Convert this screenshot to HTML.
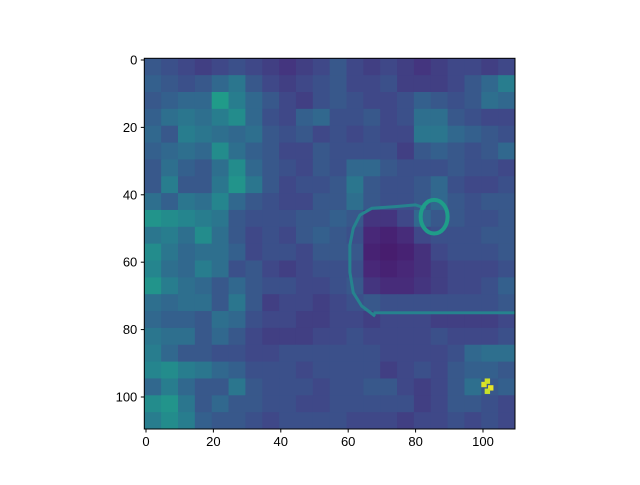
<!DOCTYPE html>
<html><head><meta charset="utf-8"><style>
body{margin:0;background:#fff;width:640px;height:480px;overflow:hidden}
svg text{font-family:"Liberation Sans",sans-serif;font-size:13px;fill:#000}
</style></head><body>
<svg id="chart" width="640" height="480"></svg>
<script>
const gridRows = [
[.30,.28,.26,.24,.26,.28,.26,.24,.22,.24,.26,.30,.26,.24,.26,.24,.22,.24,.26,.26,.24,.26],
[.32,.30,.28,.30,.34,.38,.30,.26,.24,.26,.28,.30,.26,.26,.28,.24,.24,.24,.26,.30,.34,.40],
[.30,.32,.34,.34,.48,.40,.34,.30,.26,.24,.28,.30,.28,.26,.26,.28,.32,.30,.28,.30,.36,.34],
[.32,.36,.38,.36,.40,.44,.34,.28,.26,.32,.34,.28,.28,.30,.26,.28,.36,.36,.30,.28,.26,.26],
[.34,.30,.40,.38,.36,.34,.36,.30,.28,.30,.26,.28,.26,.28,.26,.26,.38,.38,.34,.32,.30,.28],
[.32,.34,.36,.34,.44,.36,.32,.30,.26,.26,.30,.28,.28,.28,.28,.24,.30,.32,.30,.28,.30,.34],
[.30,.36,.32,.30,.36,.44,.34,.30,.28,.26,.30,.28,.34,.34,.30,.28,.28,.28,.30,.28,.28,.26],
[.30,.40,.30,.30,.38,.46,.38,.30,.26,.28,.28,.30,.38,.30,.28,.28,.30,.34,.28,.26,.26,.28],
[.36,.32,.38,.36,.42,.34,.30,.28,.26,.26,.30,.30,.36,.30,.28,.28,.30,.34,.30,.28,.30,.30],
[.46,.44,.42,.40,.38,.30,.28,.28,.28,.30,.30,.32,.30,.22,.22,.26,.34,.30,.30,.28,.28,.30],
[.38,.40,.36,.44,.36,.30,.26,.28,.26,.30,.32,.30,.28,.19,.18,.20,.26,.28,.28,.28,.30,.30],
[.44,.38,.34,.36,.36,.32,.26,.28,.28,.26,.30,.30,.30,.18,.17,.18,.21,.26,.28,.28,.28,.30],
[.42,.36,.34,.40,.36,.28,.30,.26,.24,.26,.28,.28,.28,.19,.18,.19,.21,.24,.26,.26,.26,.28],
[.46,.40,.36,.34,.30,.34,.30,.28,.28,.26,.26,.28,.30,.22,.20,.20,.22,.24,.26,.26,.28,.32],
[.36,.34,.36,.36,.30,.38,.30,.24,.26,.26,.24,.26,.28,.30,.28,.28,.28,.28,.28,.28,.28,.30],
[.34,.32,.32,.30,.36,.34,.28,.26,.26,.24,.24,.26,.26,.24,.26,.26,.26,.24,.24,.24,.24,.26],
[.38,.36,.36,.30,.34,.30,.26,.24,.24,.24,.26,.26,.28,.26,.26,.26,.26,.28,.26,.26,.26,.28],
[.40,.34,.30,.30,.28,.28,.26,.26,.28,.28,.28,.28,.28,.28,.26,.26,.26,.26,.28,.34,.36,.36],
[.42,.44,.40,.38,.34,.32,.28,.28,.28,.26,.28,.28,.28,.28,.24,.26,.28,.26,.30,.32,.32,.30],
[.34,.40,.34,.30,.30,.38,.30,.28,.28,.28,.26,.28,.28,.30,.30,.26,.24,.26,.30,.36,.30,.32],
[.44,.46,.38,.30,.34,.30,.30,.28,.28,.26,.26,.28,.28,.28,.28,.28,.24,.26,.30,.30,.28,.26],
[.40,.44,.40,.32,.30,.30,.28,.26,.28,.28,.28,.28,.26,.26,.26,.24,.26,.26,.28,.26,.28,.26]
];
const riverX = [68,64,61.5,60.5,60.5,61.5,63.5,67,74,80,83];
const riverY = [76,73,69,63,55,50,46,44,43.5,43,44];
const roadX = [68,110];
const roadY = [75,75];
const loopCenter = [86,47];
const loopRadius = [4,5];
const spotX = [100,101,102,101];
const spotY = [96,95,97,98];
const spotV = [0.95,0.93,0.97,0.92];
const xTicks = [0,20,40,60,80,100];
const yTicks = [0,20,40,60,80,100];
const N = 110, BLOCK = 5;

const L=144.3, T=58.3, S=3.37;
const sx = v => L + v*S;
const sy = v => T + v*S;
const tone = v => (v-0.25)*1.5+0.2;
const stops=[[68,1,84],[72,40,120],[62,74,137],[49,104,142],[38,130,142],[31,158,137],[53,183,121],[109,205,89],[180,222,44],[253,231,37]];
function viridis(t){t=Math.max(0,Math.min(1,t))*9;const i=Math.min(8,Math.floor(t)),f=t-i,a=stops[i],b=stops[i+1];
return `rgb(${a.map((c,k)=>Math.round(c+(b[k]-c)*f)).join(',')})`;}
const NS='http://www.w3.org/2000/svg', svg=document.getElementById('chart');
function mk(tag,attrs,parent){const e=document.createElementNS(NS,tag);for(const k in attrs)e.setAttribute(k,attrs[k]);(parent||svg).appendChild(e);return e;}
const cells=mk('g',{});


gridRows.forEach((row,r)=>row.forEach((v,c)=>{
  const e=mk('rect',{x:sx(c*BLOCK),y:sy(r*BLOCK),width:BLOCK*S+0.5,height:BLOCK*S+0.5,fill:viridis(tone(v))},cells);
  
  
}));
const river=mk('polyline',{points:riverX.map((x,i)=>sx(x+0.5)+','+sy(riverY[i]+0.5)).join(' '),fill:'none',stroke:viridis(0.45),'stroke-width':S*0.9,'stroke-linejoin':'round'});


const road=mk('polyline',{points:roadX.map((x,i)=>sx(x)+','+sy(roadY[i]+0.5)).join(' '),fill:'none',stroke:viridis(0.45),'stroke-width':S*0.9});


const loop=mk('ellipse',{cx:sx(loopCenter[0]),cy:sy(loopCenter[1]),rx:loopRadius[0]*S,ry:loopRadius[1]*S,fill:'none',stroke:viridis(0.55),'stroke-width':S*1.2});


spotX.forEach((x,i)=>{const e=mk('rect',{x:sx(x),y:sy(spotY[i]),width:S*1.6,height:S*1.6,fill:viridis(spotV[i])});
  
  });
const frame=mk('rect',{x:L,y:T,width:N*S,height:N*S,fill:'none',stroke:'#000','stroke-width':1});


xTicks.forEach(t=>{const x=sx(t+0.5);mk('line',{x1:x,x2:x,y1:T+N*S,y2:T+N*S+3.5,stroke:'#000'});
  const tx=mk('text',{x:x,y:T+N*S+17,'text-anchor':'middle'});tx.textContent=t;
  
  });
yTicks.forEach(t=>{const y=sy(t+0.5);mk('line',{x1:L-3.5,x2:L,y1:y,y2:y,stroke:'#000'});
  const tx=mk('text',{x:L-7,y:y+4.5,'text-anchor':'end'});tx.textContent=t;
  
  });
</script>
</body></html>
